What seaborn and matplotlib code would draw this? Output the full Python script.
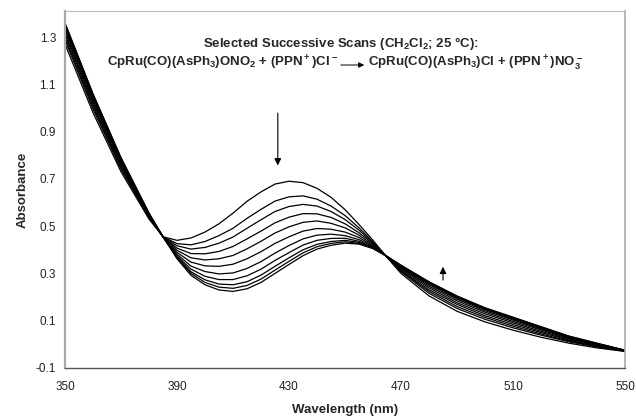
import numpy as np
import pandas as pd
import matplotlib
matplotlib.use("Agg")
import matplotlib.pyplot as plt
import seaborn as sns

wavelength = [350, 360, 370, 380, 385, 390, 395, 400, 405, 410, 415, 420, 425, 430, 435,
              440, 445, 450, 455, 460, 465, 470, 480, 490, 500, 510, 520, 530, 540, 550]

# successive scans, first (nitrite complex) to last (chloride complex)
scan_01 = [1.27, 0.98, 0.73, 0.53, 0.455, 0.44, 0.45, 0.475, 0.51, 0.555, 0.605, 0.645, 0.678, 0.69, 0.684,
           0.66, 0.622, 0.57, 0.507, 0.44, 0.368, 0.30, 0.205, 0.14, 0.095, 0.06, 0.03, 0.005, -0.015, -0.03]
scan_02 = [1.287, 0.995, 0.741, 0.535, 0.455, 0.426, 0.421, 0.435, 0.46, 0.491, 0.533, 0.571, 0.606, 0.624, 0.628,
           0.614, 0.585, 0.545, 0.493, 0.433, 0.369, 0.307, 0.216, 0.152, 0.106, 0.07, 0.039, 0.011, -0.011, -0.029]
scan_03 = [1.298, 1.005, 0.749, 0.538, 0.455, 0.417, 0.403, 0.41, 0.428, 0.454, 0.491, 0.527, 0.562, 0.583, 0.592,
           0.585, 0.562, 0.528, 0.483, 0.429, 0.369, 0.311, 0.224, 0.16, 0.114, 0.077, 0.044, 0.014, -0.009, -0.028]
scan_04 = [1.31, 1.015, 0.756, 0.541, 0.455, 0.407, 0.384, 0.383, 0.393, 0.414, 0.446, 0.479, 0.514, 0.538, 0.553,
           0.552, 0.537, 0.51, 0.472, 0.425, 0.37, 0.315, 0.231, 0.169, 0.121, 0.084, 0.05, 0.018, -0.006, -0.028]
scan_05 = [1.32, 1.025, 0.764, 0.544, 0.455, 0.398, 0.366, 0.357, 0.362, 0.376, 0.404, 0.436, 0.471, 0.497, 0.516,
           0.522, 0.512, 0.493, 0.462, 0.42, 0.37, 0.32, 0.239, 0.176, 0.129, 0.091, 0.055, 0.022, -0.004, -0.027]
scan_06 = [1.331, 1.034, 0.771, 0.547, 0.455, 0.389, 0.348, 0.332, 0.33, 0.339, 0.362, 0.392, 0.427, 0.455, 0.479,
           0.49, 0.487, 0.475, 0.452, 0.416, 0.371, 0.324, 0.246, 0.184, 0.136, 0.097, 0.061, 0.025, -0.001, -0.027]
scan_07 = [1.34, 1.042, 0.777, 0.55, 0.455, 0.381, 0.331, 0.308, 0.298, 0.302, 0.321, 0.35, 0.386, 0.418, 0.446,
           0.462, 0.466, 0.46, 0.443, 0.413, 0.371, 0.327, 0.252, 0.191, 0.142, 0.103, 0.065, 0.028, 0.001, -0.026]
scan_08 = [1.347, 1.049, 0.782, 0.552, 0.455, 0.374, 0.318, 0.288, 0.274, 0.274, 0.29, 0.318, 0.355, 0.388, 0.42,
           0.44, 0.448, 0.449, 0.436, 0.41, 0.371, 0.33, 0.257, 0.196, 0.147, 0.107, 0.069, 0.031, 0.002, -0.026]
scan_09 = [1.353, 1.054, 0.785, 0.553, 0.455, 0.369, 0.307, 0.273, 0.255, 0.252, 0.265, 0.293, 0.33, 0.366, 0.4,
           0.423, 0.435, 0.44, 0.431, 0.408, 0.372, 0.332, 0.26, 0.2, 0.15, 0.111, 0.071, 0.033, 0.003, -0.025]
scan_10 = [1.356, 1.057, 0.788, 0.554, 0.455, 0.366, 0.3, 0.262, 0.242, 0.237, 0.249, 0.276, 0.314, 0.351, 0.387,
           0.413, 0.427, 0.434, 0.427, 0.406, 0.372, 0.334, 0.263, 0.202, 0.153, 0.113, 0.073, 0.034, 0.004, -0.025]
scan_11 = [1.36, 1.06, 0.79, 0.555, 0.455, 0.362, 0.292, 0.252, 0.23, 0.224, 0.235, 0.262, 0.3, 0.338, 0.375,
           0.403, 0.419, 0.428, 0.424, 0.405, 0.372, 0.335, 0.265, 0.205, 0.155, 0.115, 0.075, 0.035, 0.005, -0.025]

scans = [scan_01, scan_02, scan_03, scan_04, scan_05, scan_06,
         scan_07, scan_08, scan_09, scan_10, scan_11]

x_ticks = [350, 390, 430, 470, 510, 550]
y_ticks = [-0.1, 0.1, 0.3, 0.5, 0.7, 0.9, 1.1, 1.3]

title_line = "Selected Successive Scans (CH$_2$Cl$_2$; 25 \u00b0C):"
reactants = "CpRu(CO)(AsPh$_3$)ONO$_2$ + (PPN$^+$)Cl$^-$"
products = "CpRu(CO)(AsPh$_3$)Cl + (PPN$^+$)NO$_3^-$"

rows = []
for i, vals in enumerate(scans):
    for wl, a in zip(wavelength, vals):
        rows.append({"scan": f"scan {i + 1}", "wavelength": wl, "absorbance": a})
df = pd.DataFrame(rows)

sns.set_style("white")
plt.rcParams["font.family"] = ["Liberation Sans", "DejaVu Sans"]
plt.rcParams["mathtext.default"] = "regular"

W, H = 636, 416
fig = plt.figure(figsize=(W / 100, H / 100), dpi=100)
ax = fig.add_axes([65 / W, 48 / H, 560 / W, 357 / H])

sns.lineplot(data=df, x="wavelength", y="absorbance", hue="scan",
             palette=["black"] * len(scans), legend=False, linewidth=0.9,
             errorbar=None, ax=ax)

ax.set_xlim(350, 550)
ax.set_ylim(-0.1, 1.41)
ax.set_xticks(x_ticks)
ax.set_yticks(y_ticks)
ax.set_yticklabels([f"{v:.1f}" for v in y_ticks])
ax.tick_params(axis="both", labelsize=8.5, colors="#222222", length=2.5, width=0.6)
ax.tick_params(axis="x", direction="in", pad=9)
ax.tick_params(axis="y", direction="out", pad=4)

ax.spines["left"].set_color("#a8a8a8")
ax.spines["left"].set_linewidth(1.6)
ax.spines["bottom"].set_color("#555555")
ax.spines["bottom"].set_linewidth(1.0)
ax.spines["top"].set_color("#bbbbbb")
ax.spines["top"].set_linewidth(0.8)
ax.spines["right"].set_color("#aaaaaa")
ax.spines["right"].set_linewidth(1.2)

ax.set_xlabel("Wavelength (nm)", fontsize=9.5, fontweight="bold", labelpad=8)
ax.set_ylabel("Absorbance", fontsize=9.5, fontweight="bold", labelpad=5)

# two-line reaction caption
fig.text(203 / W, 1 - 43 / H, title_line, fontsize=9.5, fontweight="bold", ha="left", va="center")
fig.text(338 / W, 1 - 63 / H, reactants, fontsize=9.5, fontweight="bold", ha="right", va="center")
fig.text(368 / W, 1 - 63 / H, products, fontsize=9.5, fontweight="bold", ha="left", va="center")
ax.annotate("", xy=(367 / W, 1 - 65 / H), xytext=(338 / W, 1 - 65 / H),
            xycoords="figure fraction", textcoords="figure fraction",
            arrowprops=dict(arrowstyle="-|>", color="black", lw=0.7, mutation_scale=8))

# direction of change arrows
ax.annotate("", xy=(426, 0.745), xytext=(426, 0.99),
            arrowprops=dict(arrowstyle="-|>", color="black", lw=0.8, mutation_scale=10))
ax.annotate("", xy=(485, 0.34), xytext=(485, 0.26),
            arrowprops=dict(arrowstyle="-|>", color="black", lw=0.8, mutation_scale=10))

fig.savefig("out.png", dpi=100)
